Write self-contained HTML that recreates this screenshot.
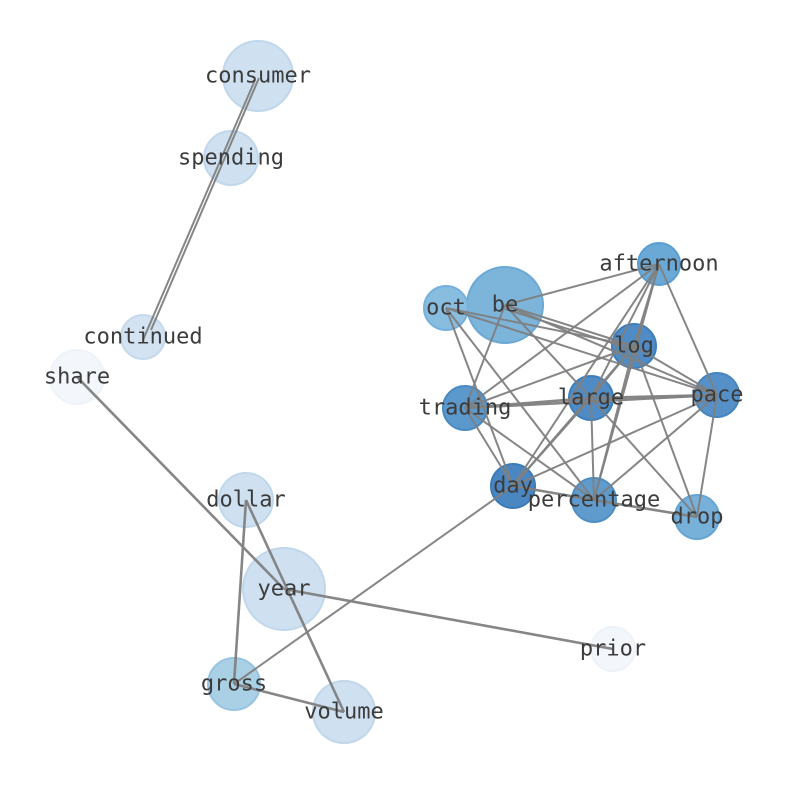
<!DOCTYPE html>
<html><head><meta charset="utf-8"><style>html,body{margin:0;padding:0;background:#fff}</style></head>
<body>
<svg width="794" height="790" xmlns="http://www.w3.org/2000/svg">
<g stroke-width="2">
<circle cx="258" cy="76" r="35" fill="#cfe1f0" stroke="#c0d7eb"/>
<circle cx="231" cy="158" r="27" fill="#cfe1f0" stroke="#c0d7eb"/>
<circle cx="143" cy="337" r="22" fill="#d3e3f1" stroke="#c4d9ec"/>
<circle cx="77" cy="377" r="27" fill="#f3f6fb" stroke="#eef2f9"/>
<circle cx="246" cy="500" r="27" fill="#cfe1f0" stroke="#c0d7eb"/>
<circle cx="284" cy="589" r="41" fill="#cfe1f0" stroke="#c0d7eb"/>
<circle cx="613" cy="649" r="22" fill="#f3f6fb" stroke="#eef2f9"/>
<circle cx="234" cy="684" r="26" fill="#a9d0e5" stroke="#97c4e0"/>
<circle cx="344" cy="712" r="31" fill="#cfe1f0" stroke="#c0d7eb"/>
<circle cx="505" cy="305" r="38" fill="#7db4da" stroke="#6aa8d5"/>
<circle cx="446" cy="308" r="22" fill="#88bde0" stroke="#76b1db"/>
<circle cx="659" cy="264" r="21" fill="#6aa9d6" stroke="#5a9dd0"/>
<circle cx="634" cy="346" r="22" fill="#4f8cc5" stroke="#3d7fbd"/>
<circle cx="465" cy="408" r="22" fill="#5b98cc" stroke="#4a8bc4"/>
<circle cx="591" cy="398" r="22" fill="#4f8cc5" stroke="#3d7fbd"/>
<circle cx="717" cy="395" r="22" fill="#5591c8" stroke="#4585c0"/>
<circle cx="513" cy="486" r="22" fill="#4a86c1" stroke="#3a7bba"/>
<circle cx="594" cy="500" r="22" fill="#5f9bcd" stroke="#4e8fc6"/>
<circle cx="697" cy="517" r="22" fill="#77b1da" stroke="#65a5d4"/>
</g>
<g stroke="#808080" stroke-width="2" fill="none" stroke-opacity="0.95">
<line x1="259" y1="78" x2="151" y2="330"/>
<line x1="255" y1="80" x2="143" y2="340"/>
<line x1="77" y1="377" x2="284" y2="589" stroke-width="2.6"/>
<line x1="284" y1="589" x2="613" y2="649" stroke-width="2.6"/>
<line x1="246" y1="500" x2="344" y2="712" stroke-width="2.6"/>
<line x1="246" y1="500" x2="234" y2="684" stroke-width="2.6"/>
<line x1="234" y1="684" x2="344" y2="712" stroke-width="2.6"/>
<line x1="234" y1="684" x2="513" y2="486"/>
<line x1="505" y1="305" x2="659" y2="264"/>
<line x1="505" y1="305" x2="634" y2="346"/>
<line x1="505" y1="309" x2="634" y2="350"/>
<line x1="505" y1="305" x2="717" y2="395"/>
<line x1="505" y1="305" x2="465" y2="408"/>
<line x1="505" y1="305" x2="591" y2="398"/>
<line x1="446" y1="308" x2="634" y2="346"/>
<line x1="446" y1="308" x2="717" y2="395"/>
<line x1="446" y1="308" x2="513" y2="486"/>
<line x1="446" y1="308" x2="594" y2="500"/>
<line x1="659" y1="264" x2="465" y2="408"/>
<line x1="659" y1="264" x2="591" y2="398"/>
<line x1="659" y1="264" x2="634" y2="346"/>
<line x1="659" y1="264" x2="513" y2="486"/>
<line x1="659" y1="264" x2="594" y2="500"/>
<line x1="659" y1="264" x2="717" y2="395"/>
<line x1="634" y1="346" x2="465" y2="408"/>
<line x1="634" y1="346" x2="591" y2="398"/>
<line x1="634" y1="346" x2="513" y2="486"/>
<line x1="634" y1="346" x2="717" y2="395"/>
<line x1="634" y1="346" x2="697" y2="517"/>
<line x1="634" y1="346" x2="594" y2="500"/>
<line x1="465" y1="408" x2="591" y2="398" stroke-width="2.6"/>
<line x1="465" y1="408" x2="717" y2="395" stroke-width="2.6"/>
<line x1="465" y1="408" x2="513" y2="486"/>
<line x1="465" y1="408" x2="594" y2="500"/>
<line x1="591" y1="398" x2="717" y2="395" stroke-width="2.6"/>
<line x1="591" y1="398" x2="513" y2="486"/>
<line x1="591" y1="398" x2="594" y2="500"/>
<line x1="591" y1="398" x2="697" y2="517"/>
<line x1="717" y1="395" x2="513" y2="486"/>
<line x1="717" y1="395" x2="594" y2="500"/>
<line x1="717" y1="395" x2="697" y2="517"/>
<line x1="513" y1="486" x2="594" y2="500" stroke-width="2.6"/>
<line x1="594" y1="500" x2="697" y2="517" stroke-width="2.6"/>
</g>
<g font-family="DejaVu Sans Mono, Liberation Mono, monospace" font-size="22" fill="#3c3c3c" text-anchor="middle" dominant-baseline="central">
<text x="258" y="76">consumer</text>
<text x="231" y="158">spending</text>
<text x="143" y="337">continued</text>
<text x="77" y="377">share</text>
<text x="246" y="500">dollar</text>
<text x="284" y="589">year</text>
<text x="613" y="649">prior</text>
<text x="234" y="684">gross</text>
<text x="344" y="712">volume</text>
<text x="505" y="305">be</text>
<text x="446" y="308">oct</text>
<text x="659" y="264">afternoon</text>
<text x="634" y="346">log</text>
<text x="465" y="408">trading</text>
<text x="591" y="398">large</text>
<text x="717" y="395">pace</text>
<text x="513" y="486">day</text>
<text x="594" y="500">percentage</text>
<text x="697" y="517">drop</text>
</g>
</svg>
</body></html>
